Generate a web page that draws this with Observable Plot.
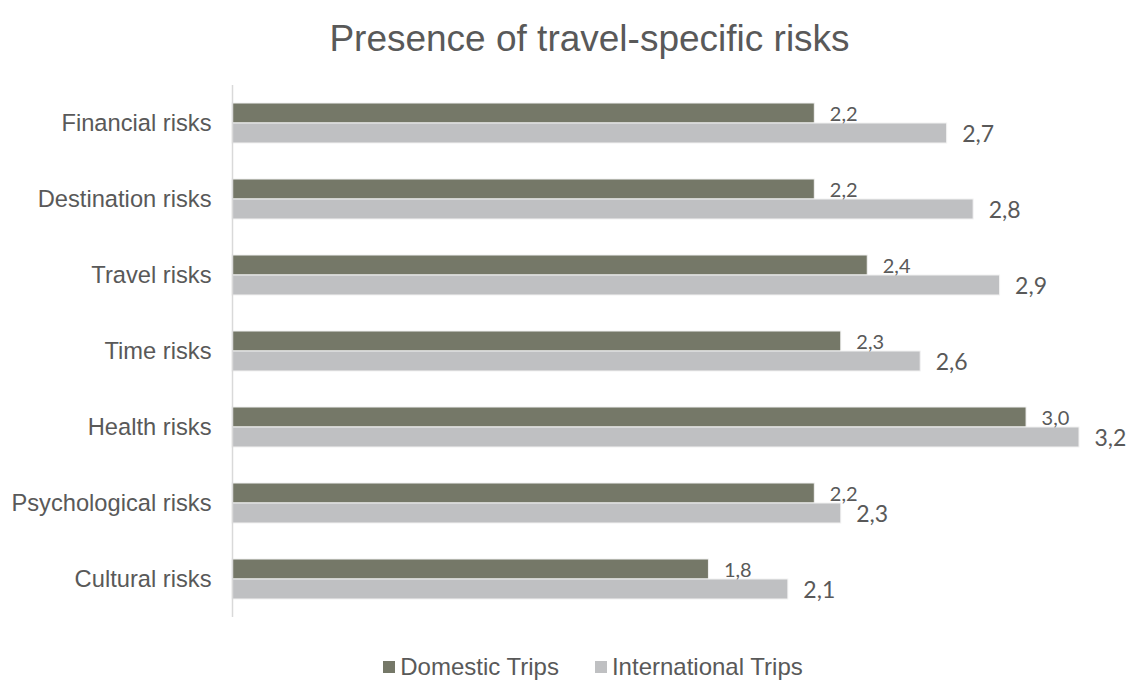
<!DOCTYPE html>
<html>
<head>
<meta charset="utf-8">
<script src="https://cdn.jsdelivr.net/npm/d3@7"></script>
<script src="https://cdn.jsdelivr.net/npm/@observablehq/plot@0.6"></script>
<style>
  html, body { margin: 0; padding: 0; background: #fff; }
  body { width: 1131px; height: 680px; overflow: hidden; font-family: "Liberation Sans", Arial, sans-serif; color: #595959; }
  #title { height: 70px; box-sizing: border-box; padding-top: 20px; padding-left: 48px; text-align: center; font-size: 37px; line-height: 37px; white-space: nowrap; }
  #chart svg { display: block; }
  #legend { height: 40px; box-sizing: border-box; padding-top: 13px; padding-left: 55px; display: flex; justify-content: center; font-size: 24px; line-height: 24px; white-space: nowrap; }
  .item { display: flex; align-items: center; }
  .item + .item { margin-left: 36px; }
  .sw { display: inline-block; width: 12px; height: 12px; margin-right: 5px; position: relative; top: 0px; }
</style>
</head>
<body>
<div id="title">Presence of travel-specific risks</div>
<div id="chart"></div>
<div id="legend"></div>
<script>
const categories = ["Financial risks", "Destination risks", "Travel risks", "Time risks", "Health risks", "Psychological risks", "Cultural risks"];
const domestic = [2.2, 2.2, 2.4, 2.3, 3.0, 2.2, 1.8];
const international = [2.7, 2.8, 2.9, 2.6, 3.2, 2.3, 2.1];
const seriesNames = ["Domestic Trips", "International Trips"];
const seriesColors = ["#757868", "#bfc0c2"];

const data = categories.flatMap((c, i) => [
  {category: c, series: seriesNames[0], value: domestic[i]},
  {category: c, series: seriesNames[1], value: international[i]}
]);
const fmt = d => d.value.toFixed(1).replace(".", ",");

const chart = Plot.plot({
  width: 1131,
  height: 570,
  marginLeft: 232,
  marginRight: 52,
  marginTop: 15,
  marginBottom: 23,
  style: {fontFamily: '"Liberation Sans", Arial, sans-serif', fontSize: "23.7px", color: "#595959", background: "white", overflow: "visible"},
  facet: {data, y: "category", marginLeft: 232, marginRight: 52, marginTop: 15, marginBottom: 23},
  fy: {domain: categories, paddingInner: 0.4737, paddingOuter: 0.23, label: null, axis: "left", tickSize: 0, tickPadding: 21},
  y: {domain: seriesNames, axis: null, padding: 0},
  x: {domain: [0, 3.2], axis: null},
  color: {domain: seriesNames, range: seriesColors},
  marks: [
    Plot.barX(data, {x: "value", y: "series", fill: "series", stroke: "#f2f2f2", strokeWidth: 1}),
    Plot.ruleX([0], {stroke: "#d9d9d9", strokeWidth: 1.5, insetTop: -18, insetBottom: -18}),
    Plot.text(data, {filter: d => d.series === seriesNames[0], x: "value", y: "series", text: fmt, textAnchor: "start", dx: 15, dy: 1, fontSize: 20, fontFamily: "Lato, sans-serif", fill: "#595959"}),
    Plot.text(data, {filter: d => d.series === seriesNames[1], x: "value", y: "series", text: fmt, textAnchor: "start", dx: 15, dy: 1, fontSize: 23, fontFamily: "Lato, sans-serif", fill: "#595959"})
  ]
});
document.getElementById("chart").appendChild(chart);

const legend = document.getElementById("legend");
seriesNames.forEach((name, i) => {
  const item = document.createElement("div");
  item.className = "item";
  const sw = document.createElement("span");
  sw.className = "sw";
  sw.style.background = seriesColors[i];
  item.appendChild(sw);
  item.appendChild(document.createTextNode(name));
  legend.appendChild(item);
});
</script>
</body>
</html>
